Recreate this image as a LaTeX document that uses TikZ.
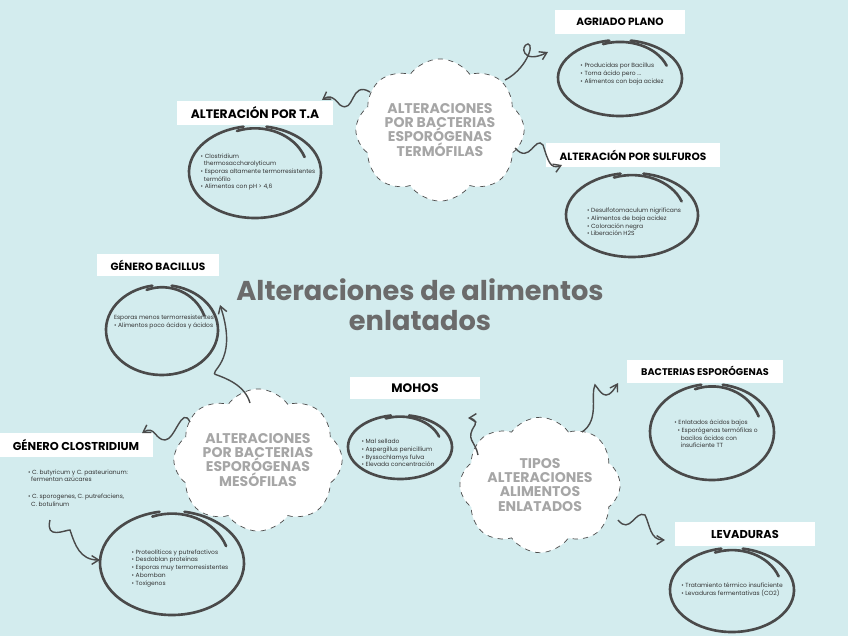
\documentclass[tikz,border=0pt]{standalone}
\usepackage{fontspec}
\setmainfont{Poppins}
\usetikzlibrary{shapes.symbols,arrows.meta}
\definecolor{bg}{HTML}{D3ECEE}
\definecolor{ink}{HTML}{4A4A4A}
\definecolor{ttl}{HTML}{6B6B6B}
\tikzset{
 lbl/.style={fill=white,font=\fontsize{6}{7}\selectfont\bfseries,text=black,minimum height=24*0.02cm,inner xsep=8pt},
 cl/.style={cloud,cloud puffs=8,cloud puff arc=110,aspect=1.3,draw=black!70,dashed,fill=white,text=ttl!60,font=\fontsize{8}{8}\selectfont\bfseries,align=center,inner sep=0pt},
 sm/.style={font=\fontsize{3.4}{4.4}\selectfont,text=black!80,align=left},
 ov/.style={draw=ink,line width=1.5pt,line cap=round},
 wav/.style={draw=ink,line width=0.8pt,-{Straight Barb[length=4pt,width=5pt]}},
}
\newcommand{\myoval}[4]{%
 \draw[ov] (#1,#2) ++(100:#3*0.02cm and #4*0.02cm) arc[start angle=100,end angle=440,x radius=#3*0.02cm,y radius=#4*0.02cm];
 \draw[ov] (#1,#2) ++(110:#3*0.02cm*0.8 and #4*0.02cm*0.95) arc[start angle=110,end angle=20,x radius=#3*0.02cm*0.8,y radius=#4*0.02cm*0.95];}
\begin{document}
\begin{tikzpicture}[x=0.02cm,y=-0.02cm]
\fill[bg] (0,0) rectangle (848,636);
\useasboundingbox (0,0) rectangle (848,636);
% title
\node[font=\fontsize{15.5}{17}\selectfont\bfseries,text=ttl,align=center] (title) at (420,305) {Alteraciones de alimentos\\enlatados};
% clouds
\node[cl,minimum width=135*0.02cm,minimum height=105*0.02cm] (ctf) at (440,130) {ALTERACIONES\\POR BACTERIAS\\ESPORÓGENAS\\TERMÓFILAS};
\node[cl,minimum width=140*0.02cm,minimum height=105*0.02cm] (cme) at (258,460) {ALTERACIONES\\POR BACTERIAS\\ESPORÓGENAS\\MESÓFILAS};
\node[cl,minimum width=140*0.02cm,minimum height=105*0.02cm] (cti) at (540,485) {TIPOS\\ALTERACIONES\\ALIMENTOS\\ENLATADOS};
% boxes
\node[lbl,minimum width=130*0.02cm] (agr) at (620,22) {AGRIADO PLANO};
\node[lbl,minimum width=140*0.02cm] (ta) at (255,113) {\fontsize{7}{8}\selectfont ALTERACIÓN POR T.A};
\node[lbl,minimum width=135*0.02cm] (sul) at (633,155) {ALTERACIÓN POR SULFUROS};
\node[lbl,minimum width=110*0.02cm,minimum height=22*0.02cm] (bac) at (158,265) {GÉNERO BACILLUS};
\node[lbl,minimum width=128*0.02cm] (clo) at (76,445) {\fontsize{6.5}{7}\selectfont GÉNERO CLOSTRIDIUM};
\node[lbl,minimum width=130*0.02cm,minimum height=22*0.02cm] (moh) at (415,388) {\fontsize{7}{8}\selectfont MOHOS};
\node[lbl,minimum width=130*0.02cm,minimum height=23*0.02cm] (bes) at (705,371) {\fontsize{5.5}{6}\selectfont BACTERIAS ESPORÓGENAS};
\node[lbl,minimum width=140*0.02cm] (lev) at (745,534) {\fontsize{6.5}{7}\selectfont LEVADURAS};
% ovals
\myoval{620}{78}{62}{38}
\myoval{255}{172}{66}{46}
\myoval{632}{215}{66}{42}
\myoval{162}{330}{56}{45}
\myoval{172}{563}{72}{52}
\myoval{400}{447}{52}{32}
\myoval{712}{432}{62}{48}
\myoval{732}{590}{62}{42}
% texts
\node[sm] (tagr) at (622,74) {• Producidas por Bacillus\\• Torna ácido pero ...\\• Alimentos con baja acidez};
\node[sm] (tta) at (258,172) {• Clostridium\\\ \ thermosaccharolyticum\\• Esporas altamente termorresistentes\\\ \ termófilo\\• Alimentos con pH > 4,6};
\node[sm] (tsul) at (634,222) {• Desulfotomaculum nigrificans\\• Alimentos de baja acidez\\• Coloración negra\\• Liberación H2S};
\node[sm] (tbac) at (164,322) {Esporas menos termorresistentes\\• Alimentos poco ácidos y ácidos};
\node[sm] (tclo) at (78,488) {• C. butyricum y C. pasteurianum:\\\ \ fermentan azúcares\\[5pt]• C. sporogenes, C. putrefaciens,\\\ \ C. botulinum};
\node[sm] (tbot) at (180,568) {• Proteolíticos y putrefactivos\\• Desdoblan proteínas\\• Esporas muy termorresistentes\\• Abomban\\• Toxígenos};
\node[sm] (tmoh) at (398,453) {• Mal sellado\\• Aspergillus penicillium\\• Byssochlamys fulva\\• Elevada concentración};
\node[sm] (tbes) at (716,434) {• Enlatados ácidos bajos\\\ \ • Esporógenas termófilas o\\\ \ \ \ bacilos ácidos con\\\ \ \ \ insuficiente TT};
\node[sm] (tlev) at (732,590) {• Tratamiento térmico insuficiente\\• Levaduras fermentativas (CO2)};
% connectors
\coordinate (a1) at (505,80); \coordinate (a2) at (548,52);
\draw[wav] (a1) .. controls (525,70) and (535,45) .. (528,44) .. controls (520,45) and (522,65) .. (a2);
\coordinate (b1) at (370,92); \coordinate (b2) at (322,100);
\draw[wav] (b1) .. controls (350,80) and (355,115) .. (340,105) .. controls (332,95) and (328,96) .. (b2);
\coordinate (c1) at (515,148); \coordinate (c2) at (562,165);
\draw[wav] (c1) .. controls (530,165) and (535,135) .. (543,145) .. controls (548,160) and (550,170) .. (c2);
\coordinate (d1) at (250,403); \coordinate (d2) at (220,305);
\draw[wav] (d1) .. controls (245,385) and (225,378) .. (217,375) .. controls (205,372) and (240,365) .. (d2);
\coordinate (e1) at (190,422); \coordinate (e2) at (142,433);
\draw[wav] (e1) .. controls (182,405) and (175,440) .. (165,440) .. controls (155,440) and (155,425) .. (e2);
\coordinate (f1) at (50,520); \coordinate (f2) at (100,560);
\draw[wav] (f1) .. controls (45,540) and (65,530) .. (70,530) .. controls (75,545) and (80,560) .. (f2);
\coordinate (g1) at (478,455); \coordinate (g2) at (468,418);
\draw[wav] (g1) .. controls (475,440) and (465,440) .. (475,425) .. controls (478,420) and (470,418) .. (g2);
\coordinate (h1) at (582,432); \coordinate (h2) at (618,383);
\draw[wav] (h1) .. controls (600,420) and (590,395) .. (595,385) .. controls (600,390) and (605,405) .. (h2);
\coordinate (i1) at (618,520); \coordinate (i2) at (665,540);
\draw[wav] (i1) .. controls (630,535) and (635,510) .. (645,515) .. controls (650,525) and (650,540) .. (i2);
\end{tikzpicture}
\end{document}
